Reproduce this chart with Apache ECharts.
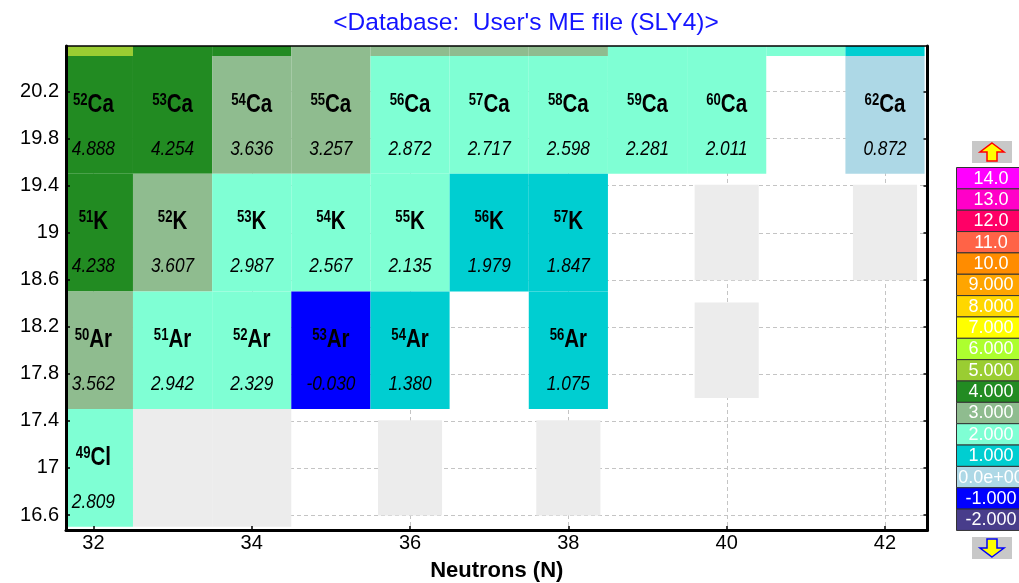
<!DOCTYPE html>
<html>
<head>
<meta charset="utf-8">
<script src="https://cdn.jsdelivr.net/npm/echarts@6/dist/echarts.min.js"></script>
<style>
  html, body { margin: 0; padding: 0; background: #ffffff; }
  #chart { width: 1019px; height: 583px; }
</style>
</head>
<body>
<div id="chart"></div>
<script>
// ---- chart data ----
const chartTitle = "<Database:  User's ME file (SLY4)>";
const xAxisName = 'Neutrons (N)';
const xTicks = [32, 34, 36, 38, 40, 42];
const yTicks = [16.6, 17, 17.4, 17.8, 18.2, 18.6, 19, 19.4, 19.8, 20.2];
const elementSymbols = { 17: 'Cl', 18: 'Ar', 19: 'K', 20: 'Ca', 21: 'Sc' };

// nuclides as [N, Z, value]
const scandium = [[32, 21, 5.41], [33, 21, 4.72], [34, 21, 4.15], [35, 21, 3.82], [36, 21, 3.55],
  [37, 21, 3.31], [38, 21, 3.08], [39, 21, 2.76], [40, 21, 2.49], [41, 21, 2.18], [42, 21, 1.62]];
const calcium = [[32, 20, 4.888], [33, 20, 4.254], [34, 20, 3.636], [35, 20, 3.257], [36, 20, 2.872],
  [37, 20, 2.717], [38, 20, 2.598], [39, 20, 2.281], [40, 20, 2.011], [42, 20, 0.872]];
const potassium = [[32, 19, 4.238], [33, 19, 3.607], [34, 19, 2.987], [35, 19, 2.567], [36, 19, 2.135],
  [37, 19, 1.979], [38, 19, 1.847]];
const argon = [[32, 18, 3.562], [33, 18, 2.942], [34, 18, 2.329], [35, 18, -0.030], [36, 18, 1.380],
  [38, 18, 1.075]];
const chlorine = [[32, 17, 2.809]];

// nuclides without a value in this file, as [N, Z]
const blankFull = [[33, 17], [34, 17]];
const blankSmall = [[36, 17], [38, 17], [40, 18], [40, 19], [42, 19]];

// colour scale (top to bottom)
const scaleLabels = ['14.0', '13.0', '12.0', '11.0', '10.0', '9.000', '8.000', '7.000', '6.000',
  '5.000', '4.000', '3.000', '2.000', '1.000', '0.0e+00', '-1.000', '-2.000'];
const scaleFloors = [14, 13, 12, 11, 10, 9, 8, 7, 6, 5, 4, 3, 2, 1, 0, -1, -2];
const scaleColors = ['#ff00ff', '#ff00c8', '#ff0066', '#ff6347', '#ff8c00', '#ffa500', '#ffd700',
  '#ffff00', '#adff2f', '#9acd32', '#228b22', '#8fbc8f', '#7fffd4', '#00ced1', '#add8e6',
  '#0000ff', '#483d8b'];

// ---- helpers ----
const X_MIN = 31.654, X_MAX = 42.537;
const Y_MIN = 16.4725, Y_MAX = 20.585;
const SANS = "'Liberation Sans', Arial, sans-serif";
const NARROW_SCALE = 0.82;   // condensed look for the cell labels

function colorFor(v) {
  let i = scaleFloors.indexOf(Math.floor(v));
  if (i < 0) i = v > scaleFloors[0] ? 0 : scaleFloors.length - 1;
  return scaleColors[i];
}

function clippedRect(params, api, n, z, half) {
  const a = api.coord([n - half, z + half]);
  const b = api.coord([n + half, z - half]);
  const cs = params.coordSys;
  return echarts.graphic.clipRectByRect(
    { x: a[0], y: a[1], width: b[0] - a[0], height: b[1] - a[1] },
    { x: cs.x, y: cs.y, width: cs.width, height: cs.height });
}

const cells = [].concat(scandium, calcium, potassium, argon, chlorine);

function renderCell(params, api) {
  const n = api.value(0), z = api.value(1), v = api.value(2);
  const rect = clippedRect(params, api, n, z, 0.5);
  if (!rect) return;
  const children = [{ type: 'rect', shape: rect, style: { fill: colorFor(v) } }];
  const c = api.coord([n, z]);
  const cs = params.coordSys;
  if (c[1] > cs.y && c[1] < cs.y + cs.height) {
    children.push({
      type: 'text', x: c[0], y: c[1] - 10, scaleX: NARROW_SCALE,
      style: {
        text: '{sup|' + (n + z) + '}{sym|' + elementSymbols[z] + '}',
        align: 'center', verticalAlign: 'middle',
        rich: {
          sup: { fontSize: 16, fontWeight: 'bold', fontFamily: SANS, fill: '#000', verticalAlign: 'top' },
          sym: { fontSize: 25, fontWeight: 'bold', fontFamily: SANS, fill: '#000', verticalAlign: 'bottom' }
        }
      }
    });
    children.push({
      type: 'text', x: c[0], y: c[1] + 34, scaleX: NARROW_SCALE,
      style: {
        text: v.toFixed(3), align: 'center', verticalAlign: 'middle',
        fontSize: 21, fontStyle: 'italic', fontFamily: SANS, fill: '#000'
      }
    });
  }
  return { type: 'group', children: children };
}

function renderBlank(half) {
  return function (params, api) {
    const rect = clippedRect(params, api, api.value(0), api.value(1), half);
    if (!rect) return;
    return { type: 'rect', shape: rect, style: { fill: '#ececec' } };
  };
}

function renderGrid(params, api) {
  const cs = params.coordSys;
  const lines = [];
  const dash = { stroke: '#c4c4c4', lineWidth: 1, lineDash: [4, 3] };
  xTicks.forEach(function (t) {
    const x = Math.round(api.coord([t, Y_MIN])[0]) + 0.5;
    lines.push({ type: 'line', shape: { x1: x, y1: cs.y, x2: x, y2: cs.y + cs.height }, style: dash });
  });
  yTicks.forEach(function (t) {
    const y = Math.round(api.coord([X_MIN, t])[1]) + 0.5;
    lines.push({ type: 'line', shape: { x1: cs.x, y1: y, x2: cs.x + cs.width, y2: y }, style: dash });
  });
  return { type: 'group', children: lines };
}

// ---- colour-scale panel ----
function scaleGraphics() {
  const top = 167, h = 21.35, left = 956;
  const els = [];
  scaleLabels.forEach(function (lab, i) {
    els.push({
      type: 'rect', left: left, top: top + i * h,
      shape: { x: 0, y: 0, width: 70, height: h },
      style: { fill: scaleColors[i], stroke: '#333', lineWidth: 1 }
    });
    els.push({
      type: 'text', x: 991, y: top + i * h + h / 2 + 1,
      style: { text: lab, fill: '#ffffff', fontSize: 18, fontFamily: SANS, align: 'center', verticalAlign: 'middle' }
    });
  });
  // scroll arrows
  els.push({ type: 'rect', shape: { x: 972, y: 141, width: 40, height: 22 }, style: { fill: '#c8c8c8' } });
  els.push({
    type: 'polygon',
    shape: { points: [[992, 143], [1004, 152], [997, 152], [997, 161], [987, 161], [987, 152], [980, 152]] },
    style: { fill: '#ffff00', stroke: '#ff0000', lineWidth: 1.5 }
  });
  els.push({ type: 'rect', shape: { x: 972, y: 537, width: 40, height: 22 }, style: { fill: '#c8c8c8' } });
  els.push({
    type: 'polygon',
    shape: { points: [[992, 557], [1004, 548], [997, 548], [997, 539], [987, 539], [987, 548], [980, 548]] },
    style: { fill: '#ffff00', stroke: '#0000ff', lineWidth: 1.5 }
  });
  return els;
}

const chart = echarts.init(document.getElementById('chart'), null, { renderer: 'canvas' });

chart.setOption({
  animation: false,
  backgroundColor: '#ffffff',
  title: {
    text: chartTitle, left: 521, top: 6, textAlign: 'center',
    textStyle: { color: '#1414ff', fontSize: 24.5, fontWeight: 'normal', fontFamily: SANS }
  },
  grid: { left: 66, right: 91.5, top: 46, bottom: 53, containLabel: false, outerBoundsMode: 'none' },
  xAxis: [{
    type: 'value', position: 'bottom', min: X_MIN, max: X_MAX, z: 10,
    axisLine: { show: true, onZero: false, lineStyle: { color: '#000', width: 3 } },
    axisTick: { show: true, inside: true, length: 4, customValues: xTicks, lineStyle: { color: '#000', width: 1.5 } },
    axisLabel: { customValues: xTicks, fontSize: 20, color: '#000', margin: 3, fontFamily: SANS },
    splitLine: { show: false },
    name: xAxisName, nameLocation: 'middle', nameGap: 30,
    nameTextStyle: { fontSize: 22, fontWeight: 'bold', color: '#000', fontFamily: SANS }
  }, {
    type: 'value', position: 'top', min: X_MIN, max: X_MAX, z: 10,
    axisLine: { show: true, onZero: false, lineStyle: { color: '#000', width: 1.5 } },
    axisTick: { show: false }, axisLabel: { show: false }, splitLine: { show: false }
  }],
  yAxis: [{
    type: 'value', position: 'left', min: Y_MIN, max: Y_MAX, z: 10,
    axisLine: { show: true, onZero: false, lineStyle: { color: '#000', width: 3 } },
    axisTick: { show: true, inside: true, length: 4, customValues: yTicks, lineStyle: { color: '#000', width: 1.5 } },
    axisLabel: { customValues: yTicks, fontSize: 20, color: '#000', margin: 7, fontFamily: SANS },
    splitLine: { show: false }
  }, {
    type: 'value', position: 'right', min: Y_MIN, max: Y_MAX, z: 10,
    axisLine: { show: true, onZero: false, lineStyle: { color: '#000', width: 3 } },
    axisTick: { show: true, inside: true, length: 4, customValues: yTicks, lineStyle: { color: '#000', width: 1.5 } },
    axisLabel: { show: false }, splitLine: { show: false }
  }],
  graphic: scaleGraphics(),
  series: [{
    type: 'custom', name: 'grid', renderItem: renderGrid, data: [[0, 0]], z: 1, silent: true
  }, {
    type: 'custom', name: 'blank', renderItem: renderBlank(0.5), data: blankFull, z: 2, silent: true
  }, {
    type: 'custom', name: 'blank-small', renderItem: renderBlank(0.405), data: blankSmall, z: 2, silent: true
  }, {
    type: 'custom', name: 'nuclides', renderItem: renderCell, data: cells, z: 3
  }]
});
</script>
</body>
</html>
